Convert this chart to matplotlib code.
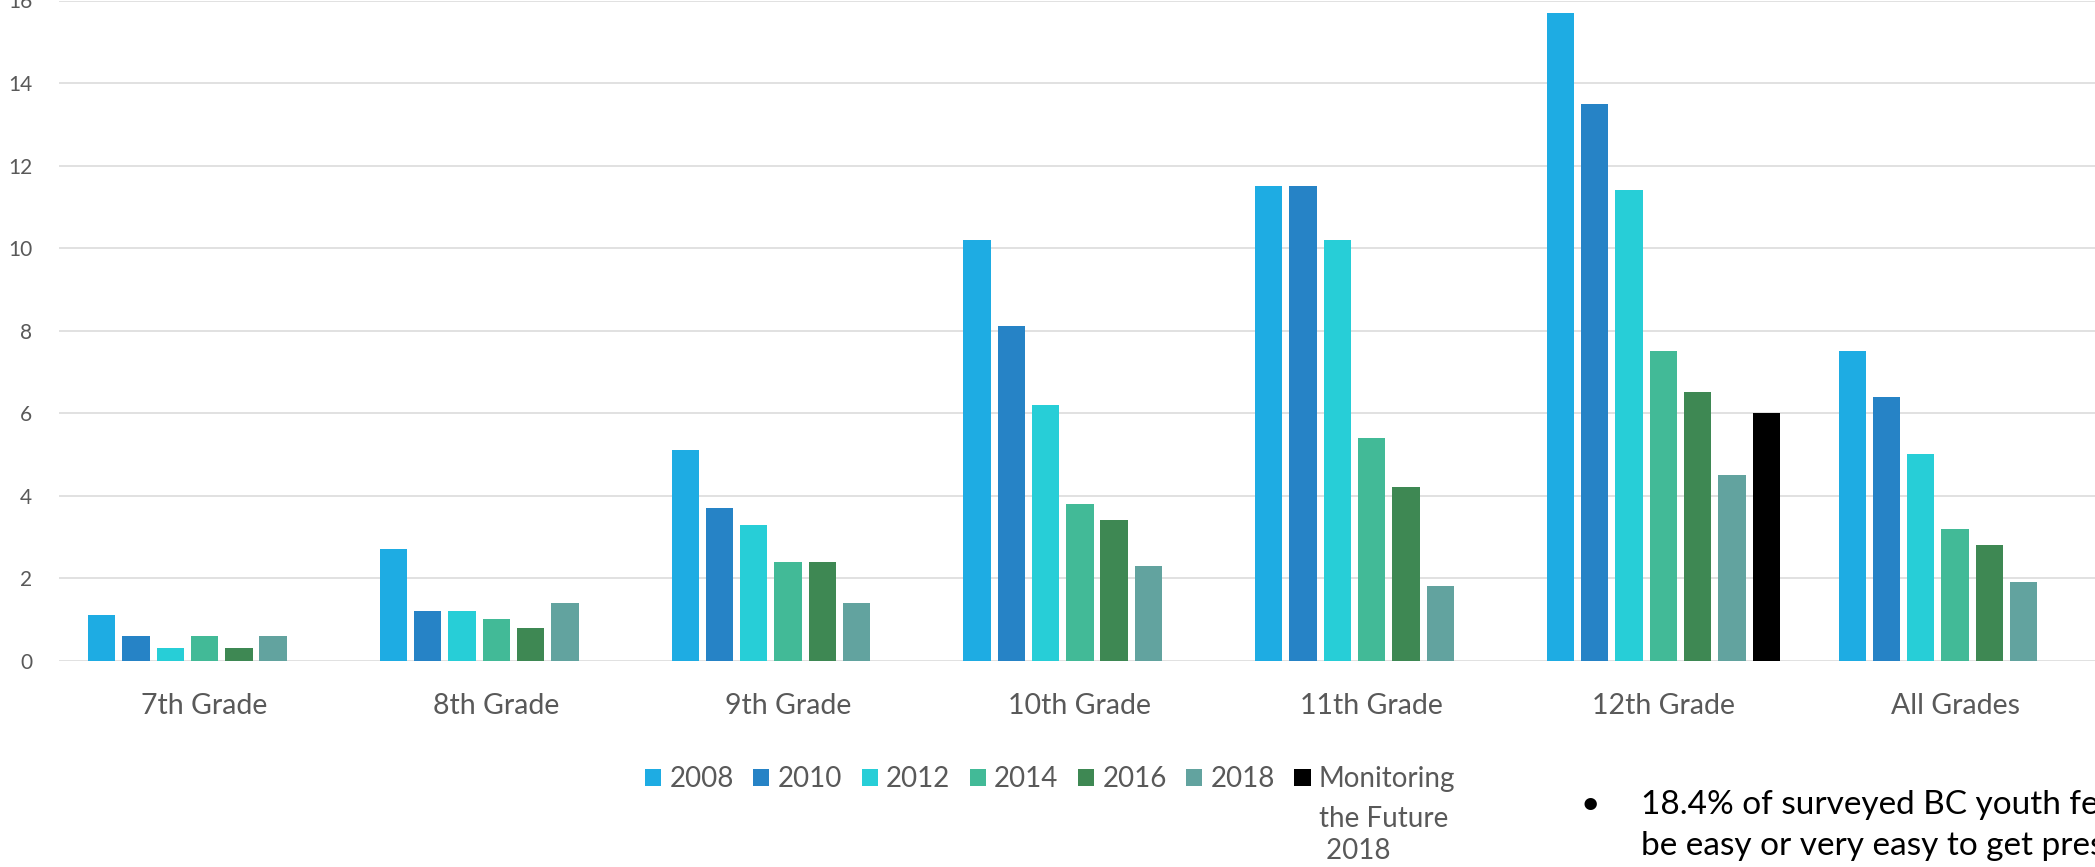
import matplotlib.pyplot as plt
import numpy as np

plt.rcParams["font.family"] = ["Lato", "DejaVu Sans"]

# ------------------------------------------------------------
# DATA
# ------------------------------------------------------------

grades = ["7th Grade", "8th Grade", "9th Grade", "10th Grade",
          "11th Grade", "12th Grade", "All Grades"]

series_labels = ["2008", "2010", "2012", "2014", "2016", "2018",
                 "Monitoring"]

values_2008 = [1.1, 2.7, 5.1, 10.2, 11.5, 15.7, 7.5]
values_2010 = [0.6, 1.2, 3.7, 8.1, 11.5, 13.5, 6.4]
values_2012 = [0.3, 1.2, 3.3, 6.2, 10.2, 11.4, 5.0]
values_2014 = [0.6, 1.0, 2.4, 3.8, 5.4, 7.5, 3.2]
values_2016 = [0.3, 0.8, 2.4, 3.4, 4.2, 6.5, 2.8]
values_2018 = [0.6, 1.4, 1.4, 2.3, 1.8, 4.5, 1.9]
values_mtf = [np.nan, np.nan, np.nan, np.nan, np.nan, 6.0, np.nan]

colors = ["#1EACE3", "#2683C6", "#27CED7", "#42BA97",
          "#3E8853", "#62A39F", "#000000"]

bullet_lines = [
    "18.4% of surveyed BC youth felt it would",
    "be easy or very easy to get prescription",
]

# ------------------------------------------------------------
# FIGURE
# ------------------------------------------------------------

W, H = 2095, 867
fig = plt.figure(figsize=(W / 100, H / 100), dpi=100)

ax = fig.add_axes([58.7 / W, (H - 660.7) / H, (2101 - 58.7) / W, 660.2 / H])

all_series = [values_2008, values_2010, values_2012, values_2014,
              values_2016, values_2018, values_mtf]

x = np.arange(len(grades))
pitch = 0.1175
bar_width = 0.0936

handles = []
for i, vals in enumerate(all_series):
    bars = ax.bar(
        x + (i - 3) * pitch,
        vals,
        width=bar_width,
        color=colors[i],
        zorder=3,
    )
    handles.append(bars)

ax.set_xlim(-0.5, len(grades) - 0.5)
ax.set_ylim(0, 16)
ax.set_yticks(np.arange(0, 17, 2))
ax.set_xticks(x)
ax.set_xticklabels(grades)

ax.grid(axis="y", color="#D9D9D9", linewidth=1.1, zorder=0)
for side in ["top", "right", "left", "bottom"]:
    ax.spines[side].set_visible(False)

ax.tick_params(axis="y", length=0, pad=19, labelsize=15, labelcolor="#595959")
ax.tick_params(axis="x", length=0, pad=23, labelsize=20.5, labelcolor="#595959")

# ------------------------------------------------------------
# LEGENDA
# ------------------------------------------------------------

leg = ax.legend(
    handles,
    series_labels,
    loc="upper left",
    bbox_to_anchor=(645 / W, 1 - 766 / H),
    bbox_transform=fig.transFigure,
    ncol=7,
    frameon=False,
    fontsize=20,
    handlelength=0.58,
    handleheight=0.58,
    handletextpad=0.3,
    columnspacing=0.7,
    borderpad=0,
    borderaxespad=0,
    labelcolor="#595959",
)

fig.canvas.draw()
renderer = fig.canvas.get_renderer()
bb = leg.get_texts()[-1].get_window_extent(renderer)
fig.text(
    bb.x0 / W,
    (bb.y0 - 14) / H,
    "the Future\n 2018",
    va="top",
    ha="left",
    fontsize=20,
    color="#595959",
    linespacing=1.3,
)

# ------------------------------------------------------------
# TESTO PUNTATO
# ------------------------------------------------------------

fig.text(1580 / W, 1 - 814 / H, "\u2022", fontsize=24, va="baseline",
         color="black")
for k, line in enumerate(bullet_lines):
    fig.text(1641 / W, 1 - (814 + 41 * k) / H, line, fontsize=24,
             va="baseline", color="black")

fig.savefig("out.png", dpi=100)
